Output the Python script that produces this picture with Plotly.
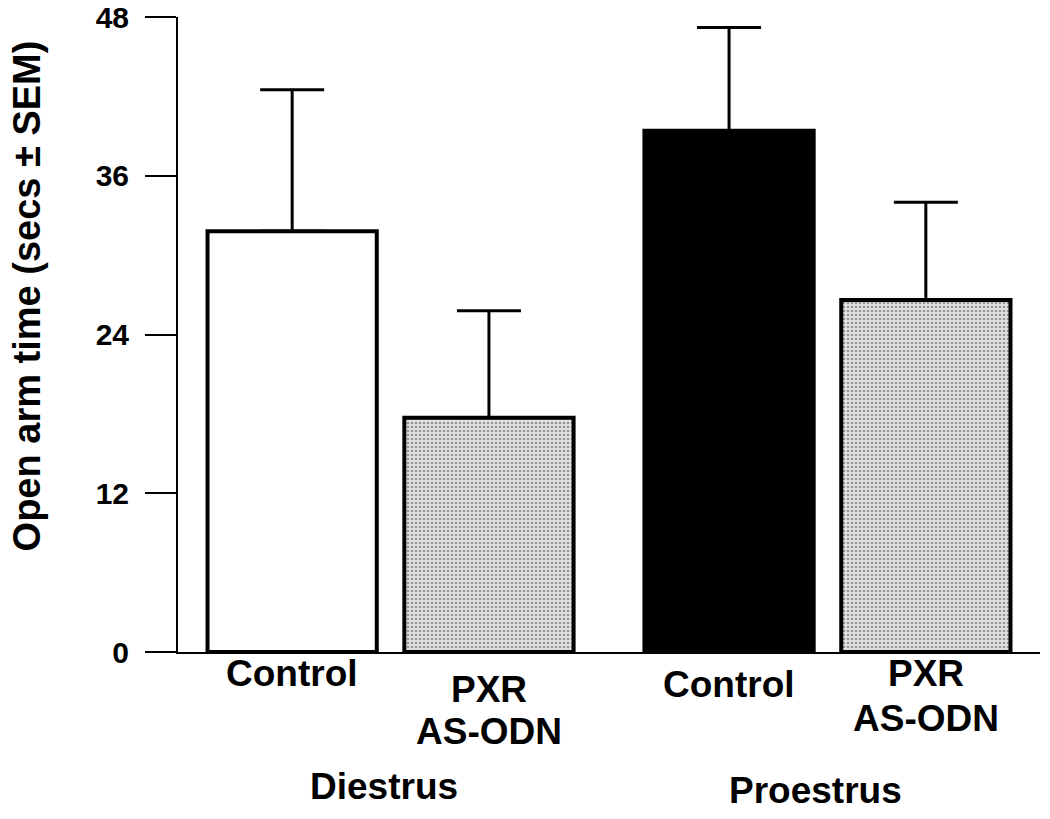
import plotly.graph_objects as go

# ---- data ----
groups = ["Diestrus", "Proestrus"]
conditions = ["Control", "PXR\nAS-ODN"]
means = [31.8, 17.7, 39.4, 26.6]          # Diestrus Control, Diestrus PXR, Proestrus Control, Proestrus PXR
sem = [10.7, 8.1, 7.8, 7.4]
y_ticks = [0, 12, 24, 36, 48]
y_title = "Open arm time (secs ± SEM)"

# ---- layout helpers ----
GROUP_GAP = 0.22
x_pos = []
for gi, g in enumerate(groups):
    for ci, c in enumerate(conditions):
        x_pos.append(gi * (len(conditions) + GROUP_GAP) + ci)

fill_colors = ["white", "#e4e4e4", "black", "#e4e4e4"]
pattern_shapes = ["", ".", "", "."]

FONT = "Arial, Liberation Sans, sans-serif"

fig = go.Figure()
fig.add_trace(go.Bar(
    x=x_pos,
    y=means,
    width=0.86,
    marker=dict(
        color=fill_colors,
        line=dict(color="black", width=4),
        pattern=dict(shape=pattern_shapes, fgcolor="#8c8c8c", size=4, solidity=0.35),
    ),
    error_y=dict(type="data", symmetric=False, array=sem, arrayminus=[0] * len(sem),
                 thickness=3, width=32, color="black"),
    showlegend=False,
    hoverinfo="skip",
))

# per-label vertical offsets (px relative to the x axis), in drawing order
label_offsets = [[[1], [-15, -57]], [[-10], [1, -44]]]
group_offsets = [-112, -116]
group_xshift = [-7, -12]
annotations = []
idx = 0
for gi, g in enumerate(groups):
    for ci, c in enumerate(conditions):
        for li, line in enumerate(c.split("\n")):
            annotations.append(dict(
                x=x_pos[idx], xref="x", y=0, yref="paper", yanchor="top", xanchor="center",
                yshift=label_offsets[gi][ci][li], text=line, showarrow=False,
                font=dict(family=FONT, size=37, color="black", weight="bold"),
            ))
        idx += 1
    gx = sum(x_pos[gi * len(conditions):(gi + 1) * len(conditions)]) / len(conditions)
    annotations.append(dict(
        x=gx, xref="x", y=0, yref="paper", yanchor="top", xanchor="center",
        yshift=group_offsets[gi], xshift=group_xshift[gi], text=g, showarrow=False,
        font=dict(family=FONT, size=37, color="black", weight="bold"),
    ))

annotations.append(dict(
    x=0, xref="paper", xshift=-151, xanchor="center",
    y=0.56, yref="paper", yanchor="middle",
    text=y_title, textangle=-90, showarrow=False,
    font=dict(family=FONT, size=38, color="black", weight="bold"),
))

fig.update_layout(
    width=1050, height=819,
    margin=dict(l=178, r=10, t=17, b=167, autoexpand=False),
    paper_bgcolor="white", plot_bgcolor="white",
    annotations=annotations,
    xaxis=dict(range=[-0.58, 3.8], showline=True, linecolor="black", linewidth=2,
               showticklabels=False, ticks="", showgrid=False, zeroline=False,
               fixedrange=True, automargin=False),
    yaxis=dict(range=[0, 48], tickvals=y_ticks, ticks="outside", ticklen=31, tickwidth=2,
               tickcolor="black", showline=True, linecolor="black", linewidth=2,
               showgrid=False, zeroline=False, ticklabelstandoff=10,
               ticklabeloverflow="allow", automargin=False,
               tickfont=dict(family=FONT, size=30, color="black", weight="bold")),
)

fig.write_html("out.html", config={"displayModeBar": False},
               post_script="document.body.style.margin='0';")
